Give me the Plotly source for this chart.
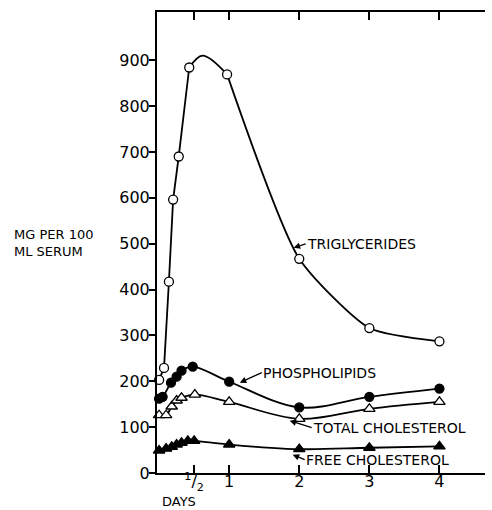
import plotly.graph_objects as go

# Serum lipid levels (mg per 100 ml) against time in days
tg_days = [0, 0.07, 0.14, 0.2, 0.28, 0.43, 0.97, 2, 3, 4]
tg_vals = [203, 229, 417, 596, 690, 884, 869, 467, 316, 287]
# crest of the hand-drawn triglyceride curve between the 10 h and 1 day samples
tg_crest_day = 0.62
tg_crest_val = 910

pl_days = [0, 0.05, 0.17, 0.25, 0.32, 0.48, 1, 2, 3, 4]
pl_vals = [162, 166, 197, 210, 223, 232, 199, 143, 166, 184]

tc_days = [0, 0.1, 0.18, 0.25, 0.32, 0.51, 1, 2, 3, 4]
tc_vals = [126, 126, 145, 158, 164, 171, 155, 118, 140, 155]

fc_days = [0, 0.1, 0.18, 0.25, 0.32, 0.41, 0.5, 1, 2, 3, 4]
fc_vals = [49, 53, 57, 62, 66, 70, 70, 62, 52, 55, 58]

x_ticks = [0.5, 1, 2, 3, 4]
x_labels = ["<sup>1</sup>/<sub>2</sub>", "1", "2", "3", "4"]
y_ticks = [0, 100, 200, 300, 400, 500, 600, 700, 800, 900]

FONT = "DejaVu Sans"
INK = "black"

fig = go.Figure()


def add_line(days, vals, smoothing):
    fig.add_trace(go.Scatter(
        x=days, y=vals, mode="lines",
        line=dict(color=INK, width=1.8, shape="spline" if smoothing else "linear",
                  smoothing=smoothing or 1),
        showlegend=False, hoverinfo="skip",
    ))


def add_markers(days, vals, symbol, fill):
    fig.add_trace(go.Scatter(
        x=days, y=vals, mode="markers",
        marker=dict(symbol=symbol, size=9 if "circle" in symbol else 10,
                    color=fill, line=dict(color=INK, width=1.3)),
        showlegend=False, cliponaxis=False,
    ))


# Triglycerides: straight steep rise, rounded crest, then easing decline
i_top = tg_days.index(0.43)
i_day1 = tg_days.index(0.97)
add_line(tg_days[:i_top + 1], tg_vals[:i_top + 1], 0)
add_line([tg_days[i_top], tg_crest_day, tg_days[i_day1]],
         [tg_vals[i_top], tg_crest_val, tg_vals[i_day1]], 1.0)
add_line(tg_days[i_day1:], tg_vals[i_day1:], 0.6)
add_line(pl_days, pl_vals, 1.0)
add_line(tc_days, tc_vals, 1.0)
add_line(fc_days, fc_vals, 1.0)

add_markers(tg_days, tg_vals, "circle", "white")
add_markers(pl_days, pl_vals, "circle", INK)
add_markers(tc_days, tc_vals, "triangle-up", "white")
add_markers(fc_days, fc_vals, "triangle-up", INK)

# Curve labels with short arrows to the lines
labels = [
    ("TRIGLYCERIDES", 1.92, 491, 12, -4),
    ("PHOSPHOLIPIDS", 1.151, 197, 22, -10),
    ("TOTAL CHOLESTEROL", 1.863, 114, 22, 7),
    ("FREE CHOLESTEROL", 1.906, 40, 12, 5),
]
for text, hx, hy, dx, dy in labels:
    fig.add_annotation(
        x=hx, y=hy, text=text, showarrow=True, ax=dx, ay=dy,
        xanchor="left", yanchor="middle",
        arrowhead=2, arrowsize=1, arrowwidth=1.3, arrowcolor=INK,
        font=dict(family=FONT, size=14, color=INK), borderpad=0,
    )

# Y axis title (two lines) and x axis title
fig.add_annotation(x=-0.441, y=0.5, xref="paper", yref="paper",
                   text="MG PER 100<br>ML SERUM", showarrow=False,
                   xanchor="left", yanchor="middle", align="left",
                   font=dict(family=FONT, size=13, color=INK))
fig.add_annotation(x=0.009, y=-0.062, xref="paper", yref="paper",
                   text="DAYS", showarrow=False, xanchor="left",
                   yanchor="middle", font=dict(family=FONT, size=13, color=INK))

fig.update_layout(
    width=492, height=510,
    margin=dict(l=157, r=7, t=12, b=37),
    paper_bgcolor="white", plot_bgcolor="white",
    font=dict(family=FONT, color=INK),
    xaxis=dict(
        range=[-0.03, 4.65], tickvals=x_ticks, ticktext=x_labels,
        ticks="inside", ticklen=8, tickwidth=1.5, tickcolor=INK,
        showline=True, linecolor=INK, linewidth=2, mirror="ticks",
        showgrid=False, zeroline=False, ticklabelstandoff=-7,
        tickfont=dict(family=FONT, size=16, color=INK),
    ),
    yaxis=dict(
        range=[0, 1005], tickvals=y_ticks,
        ticks="outside", ticklen=6, tickwidth=1.5, tickcolor=INK,
        showline=True, linecolor=INK, linewidth=2,
        showgrid=False, zeroline=False,
        tickfont=dict(family=FONT, size=16, color=INK),
        ticklabelstandoff=-4,
    ),
    yaxis2=dict(
        range=[0, 1005], tickvals=y_ticks[1:], overlaying="y", side="right",
        ticks="inside", ticklen=9, tickwidth=1.5, tickcolor=INK,
        showline=True, linecolor=INK, linewidth=2,
        showgrid=False, zeroline=False, showticklabels=False,
    ),
)

fig.write_html("out.html")
